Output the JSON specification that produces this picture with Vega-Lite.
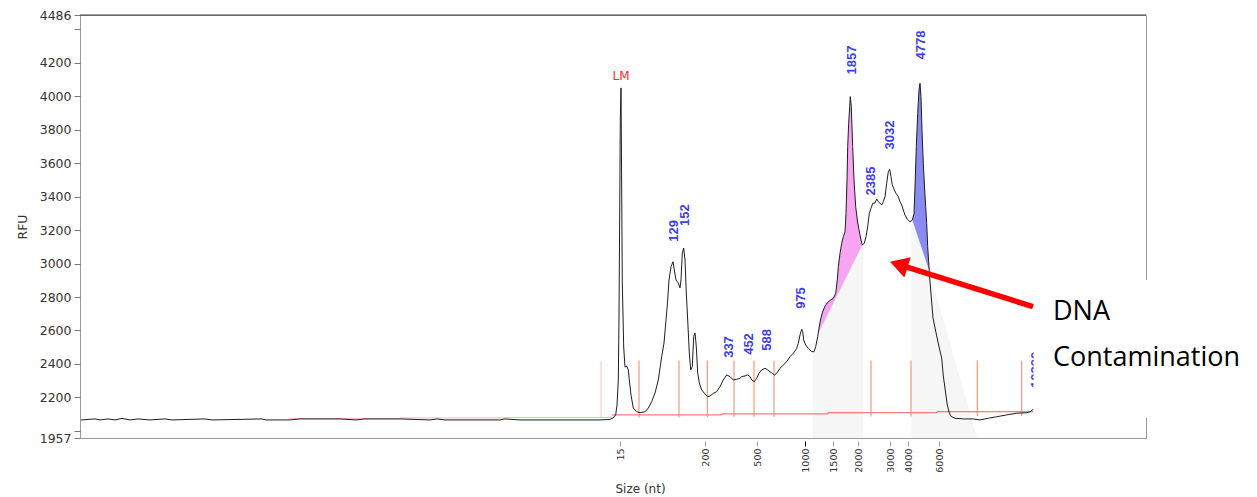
{
  "$schema": "https://vega.github.io/schema/vega-lite/v6.json",
  "width": 1066,
  "height": 423,
  "autosize": {"type": "none"},
  "padding": {"left": 80, "top": 15, "right": 111, "bottom": 59},
  "background": "white",
  "config": {
    "view": {"stroke": "#9a9a9a", "strokeWidth": 1},
    "axis": {"grid": false}
  },
  "datasets": {
    "trace": [
      {"scan":0,"rfu":2065},{"scan":14,"rfu":2071},{"scan":19,"rfu":2065},{"scan":27,"rfu":2071},{"scan":34,"rfu":2065},{"scan":41,"rfu":2074},{"scan":49,"rfu":2065},{"scan":57,"rfu":2071},{"scan":69,"rfu":2065},{"scan":84,"rfu":2071},{"scan":91,"rfu":2065},{"scan":124,"rfu":2071},{"scan":131,"rfu":2065},{"scan":181,"rfu":2071},{"scan":185,"rfu":2065},{"scan":209,"rfu":2065},{"scan":219,"rfu":2071},{"scan":259,"rfu":2071},{"scan":275,"rfu":2065},{"scan":284,"rfu":2071},{"scan":319,"rfu":2071},{"scan":349,"rfu":2065},{"scan":356,"rfu":2071},{"scan":364,"rfu":2065},{"scan":419,"rfu":2065},{"scan":424,"rfu":2071},{"scan":439,"rfu":2065},{"scan":499,"rfu":2065},{"scan":519,"rfu":2065},{"scan":529,"rfu":2068},{"scan":532,"rfu":2077},
      {"scan":534.7,"rfu":2095},{"scan":536,"rfu":2154},{"scan":537.3,"rfu":2304},{"scan":538,"rfu":2680},{"scan":538.7,"rfu":3302},{"scan":539.3,"rfu":3858},{"scan":540,"rfu":4050},{"scan":540.7,"rfu":3440},{"scan":541.3,"rfu":2884},{"scan":542.7,"rfu":2501},{"scan":544,"rfu":2381},{"scan":545.7,"rfu":2387},{"scan":547.3,"rfu":2364},{"scan":548.3,"rfu":2304},{"scan":550,"rfu":2214},{"scan":552.3,"rfu":2136},{"scan":555.7,"rfu":2114},{"scan":559,"rfu":2108},{"scan":564,"rfu":2114},{"scan":567.3,"rfu":2136},{"scan":570.7,"rfu":2174},{"scan":574,"rfu":2226},{"scan":577.3,"rfu":2304},{"scan":580.7,"rfu":2443},{"scan":583,"rfu":2525},{"scan":585,"rfu":2662},{"scan":586.7,"rfu":2782},{"scan":588,"rfu":2902},{"scan":590,"rfu":2981},{"scan":592,"rfu":3011},{"scan":593.3,"rfu":2961},{"scan":595,"rfu":2902},{"scan":597.3,"rfu":2884},{"scan":599,"rfu":2854},{"scan":600,"rfu":2902},{"scan":601.3,"rfu":3063},{"scan":602.7,"rfu":3093},{"scan":604,"rfu":3021},{"scan":605.3,"rfu":2824},{"scan":606.7,"rfu":2662},{"scan":608.3,"rfu":2465},{"scan":609.7,"rfu":2364},{"scan":611.3,"rfu":2383},{"scan":612.7,"rfu":2563},{"scan":614,"rfu":2585},{"scan":615.3,"rfu":2503},{"scan":616.7,"rfu":2346},{"scan":618.3,"rfu":2286},{"scan":620.7,"rfu":2244},{"scan":624,"rfu":2220},{"scan":626.7,"rfu":2204},{"scan":629,"rfu":2208},{"scan":632.3,"rfu":2224},{"scan":635.7,"rfu":2234},{"scan":639,"rfu":2264},{"scan":642.3,"rfu":2304},{"scan":645.7,"rfu":2334},{"scan":649,"rfu":2324},{"scan":652.3,"rfu":2304},{"scan":655.7,"rfu":2308},{"scan":659,"rfu":2314},{"scan":660.7,"rfu":2324},{"scan":664,"rfu":2328},{"scan":666.7,"rfu":2334},{"scan":669,"rfu":2324},{"scan":670.7,"rfu":2304},{"scan":673.3,"rfu":2294},{"scan":675.7,"rfu":2314},{"scan":678,"rfu":2344},{"scan":680.7,"rfu":2364},{"scan":684,"rfu":2374},{"scan":686.7,"rfu":2364},{"scan":689,"rfu":2353},{"scan":691.3,"rfu":2344},{"scan":693.3,"rfu":2334},{"scan":695.7,"rfu":2344},{"scan":699,"rfu":2374},{"scan":702.3,"rfu":2393},{"scan":705.7,"rfu":2413},{"scan":709,"rfu":2443},{"scan":712.3,"rfu":2463},{"scan":715.7,"rfu":2493},{"scan":717.3,"rfu":2523},{"scan":719,"rfu":2573},{"scan":720.7,"rfu":2607},{"scan":721.7,"rfu":2593},{"scan":722.7,"rfu":2543},{"scan":724.7,"rfu":2513},{"scan":727.3,"rfu":2493},{"scan":730.7,"rfu":2473},{"scan":733,"rfu":2473},{"scan":734.7,"rfu":2503},{"scan":736.7,"rfu":2563},{"scan":739,"rfu":2651},{"scan":741.5,"rfu":2710},{"scan":744,"rfu":2746},{"scan":747.3,"rfu":2772},{"scan":752.3,"rfu":2792},{"scan":754.7,"rfu":2822},{"scan":756.3,"rfu":2902},{"scan":757.3,"rfu":2981},{"scan":759,"rfu":3061},{"scan":760.7,"rfu":3121},{"scan":762.3,"rfu":3161},{"scan":764,"rfu":3190},{"scan":765,"rfu":3300},{"scan":766,"rfu":3500},{"scan":766.7,"rfu":3699},{"scan":767.7,"rfu":3839},{"scan":768.7,"rfu":3938},{"scan":769.3,"rfu":3998},{"scan":770.3,"rfu":3938},{"scan":771.7,"rfu":3699},{"scan":773,"rfu":3500},{"scan":774.7,"rfu":3340},{"scan":776.3,"rfu":3260},{"scan":778,"rfu":3201},{"scan":780,"rfu":3141},{"scan":781.3,"rfu":3111},{"scan":783.3,"rfu":3121},{"scan":785,"rfu":3161},{"scan":786.7,"rfu":3220},{"scan":788.3,"rfu":3300},{"scan":790,"rfu":3330},{"scan":791.7,"rfu":3360},{"scan":794,"rfu":3362},{"scan":795.7,"rfu":3386},{"scan":797.3,"rfu":3370},{"scan":799,"rfu":3360},{"scan":800.7,"rfu":3350},{"scan":802.3,"rfu":3370},{"scan":804,"rfu":3400},{"scan":805.7,"rfu":3480},{"scan":807.3,"rfu":3549},{"scan":808.7,"rfu":3563},{"scan":810,"rfu":3519},{"scan":811.3,"rfu":3470},{"scan":813.3,"rfu":3440},{"scan":815,"rfu":3420},{"scan":817.3,"rfu":3400},{"scan":819,"rfu":3370},{"scan":820.7,"rfu":3350},{"scan":822.3,"rfu":3320},{"scan":824,"rfu":3290},{"scan":826.3,"rfu":3265},{"scan":829,"rfu":3250},{"scan":831.3,"rfu":3260},{"scan":833,"rfu":3300},{"scan":834,"rfu":3459},{"scan":835.3,"rfu":3699},{"scan":836.7,"rfu":3898},{"scan":838,"rfu":4038},{"scan":839,"rfu":4078},{"scan":840,"rfu":3998},{"scan":841,"rfu":3798},{"scan":842.3,"rfu":3599},{"scan":843.7,"rfu":3440},{"scan":844.7,"rfu":3340},{"scan":845.7,"rfu":3241},{"scan":846.7,"rfu":3101},{"scan":848,"rfu":2981},{"scan":849,"rfu":2890},{"scan":850.5,"rfu":2782},{"scan":852,"rfu":2674},{"scan":855.7,"rfu":2567},{"scan":858.3,"rfu":2495},{"scan":860.7,"rfu":2435},{"scan":862.3,"rfu":2328},{"scan":864.5,"rfu":2232},{"scan":866.3,"rfu":2154},{"scan":868,"rfu":2112},{"scan":870,"rfu":2086},{"scan":874,"rfu":2075},{"scan":882.3,"rfu":2071},{"scan":892.3,"rfu":2071},{"scan":899,"rfu":2065},{"scan":907.3,"rfu":2075},{"scan":915.7,"rfu":2084},{"scan":925.7,"rfu":2095},{"scan":935.7,"rfu":2105},{"scan":945.7,"rfu":2108},{"scan":949,"rfu":2114},{"scan":952.3,"rfu":2129}
    ],
    "greyL": [
      {"scan":732,"rfu":2473},{"scan":733,"rfu":2473},{"scan":734.7,"rfu":2503},{"scan":736.7,"rfu":2563},{"scan":737.3,"rfu":2583},{"scan":781.3,"rfu":3111},{"scan":782,"rfu":3113}
    ],
    "greyR": [
      {"scan":830.4,"rfu":3256},{"scan":831.3,"rfu":3260},{"scan":848,"rfu":2961},{"scan":896,"rfu":1957}
    ],
    "faintBase": [
      {"scan":209,"rfu":2074},{"scan":319,"rfu":2077},{"scan":424,"rfu":2080},{"scan":531,"rfu":2080}
    ],
    "redBase": [
      {"scan":531,"rfu":2095},{"scan":641,"rfu":2101},{"scan":747,"rfu":2108},{"scan":856,"rfu":2114},{"scan":952,"rfu":2114}
    ],
    "ladder": [
      {"scan":520,"rfu":2420,"rfu2":2080},{"scan":558,"rfu":2420,"rfu2":2080},{"scan":598,"rfu":2420,"rfu2":2080},{"scan":626.3,"rfu":2420,"rfu2":2083},{"scan":653,"rfu":2420,"rfu2":2083},{"scan":673,"rfu":2420,"rfu2":2083},{"scan":693,"rfu":2420,"rfu2":2083},{"scan":790,"rfu":2420,"rfu2":2086},{"scan":830,"rfu":2420,"rfu2":2086},{"scan":896.3,"rfu":2420,"rfu2":2089},{"scan":940.7,"rfu":2420,"rfu2":2089}
    ],
    "topBorder": [{"scan":-1,"scan2":1065,"rfu":4486}],
    "peaks": [
      {"scan":592.5,"rfu":3195,"t":"129"},{"scan":604,"rfu":3290,"t":"152"},{"scan":648,"rfu":2501,"t":"337"},{"scan":668,"rfu":2519,"t":"452"},{"scan":686,"rfu":2543,"t":"588"},{"scan":720,"rfu":2794,"t":"975"},{"scan":771,"rfu":4217,"t":"1857"},{"scan":790,"rfu":3493,"t":"2385"},{"scan":809,"rfu":3768,"t":"3032"},{"scan":839.5,"rfu":4307,"t":"4778"},{"scan":955,"rfu":2364,"t":"10380"}
    ],
    "lm": [{"scan":540,"rfu":4121,"t":"LM"}],
    "box": [{"scan":952.6,"scan2":1180,"rfu":2077,"rfu2":2902}],
    "arrow": [{"scan":952,"rfu":2742,"scan2":818,"rfu2":2994}],
    "arrowHead": [{"scan":817.8,"rfu":2994}],
    "note": [{"scan":972,"rfu":2662,"t":"DNA"},{"scan":972,"rfu":2387,"t":"Contamination"}]
  },
  "encoding": {
    "x": {
      "field": "scan",
      "type": "quantitative",
      "scale": {"domain": [-1, 1065], "nice": false, "zero": false},
      "axis": {
        "values": [539, 624, 676, 724, 752, 777, 809, 827, 858],
        "labelExpr": "datum.value == 539 ? '15' : datum.value == 624 ? '200' : datum.value == 676 ? '500' : datum.value == 724 ? '1000' : datum.value == 752 ? '1500' : datum.value == 777 ? '2000' : datum.value == 809 ? '3000' : datum.value == 827 ? '4000' : '6000'",
        "labelAngle": -90,
        "labelOverlap": false,
        "labelFont": "DejaVu Sans",
        "labelFontSize": 9.5,
        "labelColor": "#333333",
        "labelPadding": 2,
        "domain": false,
        "offset": 3,
        "tickSize": 5,
        "tickColor": {"condition": {"test": "datum.value === 724", "value": "#000000"}, "value": "#999999"},
        "title": "Size (nt)",
        "titleFont": "DejaVu Sans",
        "titleFontSize": 12,
        "titleFontWeight": "normal",
        "titleColor": "#333333",
        "titlePadding": 11,
        "titleX": 560
      }
    },
    "y": {
      "field": "rfu",
      "type": "quantitative",
      "scale": {"domain": [1957, 4486], "nice": false, "zero": false},
      "axis": {
        "values": [1957, 2000, 2200, 2400, 2600, 2800, 3000, 3200, 3400, 3600, 3800, 4000, 4200, 4400, 4486],
        "labelExpr": "datum.value == 2000 || datum.value == 4400 ? '' : datum.label",
        "format": "d",
        "labelOverlap": false,
        "labelFont": "DejaVu Sans",
        "labelFontSize": 12.5,
        "labelColor": "#333333",
        "labelPadding": 3,
        "domain": false,
        "tickSize": 6,
        "tickColor": "#777777",
        "title": "RFU",
        "titleFont": "DejaVu Sans",
        "titleFontSize": 12.5,
        "titleFontWeight": "normal",
        "titleColor": "#333333",
        "titlePadding": 10
      }
    }
  },
  "layer": [
    {
      "data": {"name": "trace"},
      "transform": [{"filter": "datum.scan >= 736.7 && datum.scan <= 781.3"}],
      "mark": {"type": "area", "color": "#f7a4f2", "opacity": 1},
      "encoding": {"y2": {"datum": 1957}}
    },
    {
      "data": {"name": "trace"},
      "transform": [{"filter": "datum.scan >= 831.3 && datum.scan <= 848"}],
      "mark": {"type": "area", "color": "#8a8af3", "opacity": 1},
      "encoding": {"y2": {"datum": 1957}}
    },
    {
      "data": {"name": "greyL"},
      "mark": {"type": "area", "color": "#f6f6f6", "opacity": 1},
      "encoding": {"y2": {"datum": 1957}}
    },
    {
      "data": {"name": "greyR"},
      "mark": {"type": "area", "color": "#f6f6f6", "opacity": 1},
      "encoding": {"y2": {"datum": 1957}}
    },
    {
      "data": {"name": "faintBase"},
      "mark": {"type": "line", "color": "#f6b8b8", "strokeWidth": 1, "interpolate": "step-after"},
      "encoding": {}
    },
    {
      "data": {"name": "redBase"},
      "mark": {"type": "line", "color": "#f25c5c", "strokeWidth": 1, "interpolate": "step-after"},
      "encoding": {}
    },
    {
      "data": {"name": "ladder"},
      "mark": {"type": "rule", "color": "#f2865f", "strokeWidth": 1},
      "encoding": {
        "y2": {"field": "rfu2"},
        "strokeOpacity": {"condition": {"test": "datum.scan < 530", "value": 0.45}, "value": 1}
      }
    },
    {
      "data": {"name": "topBorder"},
      "mark": {"type": "rule", "color": "#333333", "strokeWidth": 1},
      "encoding": {"x2": {"field": "scan2"}}
    },
    {
      "data": {"name": "trace"},
      "mark": {"type": "line", "color": "#1e1e1e", "strokeWidth": 1},
      "encoding": {}
    },
    {
      "data": {"name": "peaks"},
      "mark": {"type": "text", "angle": 270, "align": "center", "baseline": "middle", "font": "Liberation Sans", "fontSize": 13, "fontWeight": "bold", "color": "#3c3cf0"},
      "encoding": {"text": {"field": "t"}}
    },
    {
      "data": {"name": "lm"},
      "mark": {"type": "text", "align": "center", "baseline": "middle", "font": "DejaVu Sans", "fontSize": 12, "color": "#ff2a2a"},
      "encoding": {"text": {"field": "t"}}
    },
    {
      "data": {"name": "box"},
      "mark": {"type": "rect", "color": "#ffffff", "opacity": 1},
      "encoding": {"x2": {"field": "scan2"}, "y2": {"field": "rfu2"}}
    },
    {
      "data": {"name": "arrow"},
      "mark": {"type": "rule", "color": "#ff0000", "strokeWidth": 5.5, "strokeCap": "butt"},
      "encoding": {"x2": {"field": "scan2"}, "y2": {"field": "rfu2"}}
    },
    {
      "data": {"name": "arrowHead"},
      "mark": {"type": "point", "shape": "triangle-left", "angle": 17.5, "size": 450, "filled": true, "color": "#ff0000", "opacity": 1},
      "encoding": {}
    },
    {
      "data": {"name": "note"},
      "mark": {"type": "text", "align": "left", "baseline": "alphabetic", "font": "Open Sans", "fontSize": 27, "color": "#000000"},
      "encoding": {"text": {"field": "t"}}
    }
  ]
}
